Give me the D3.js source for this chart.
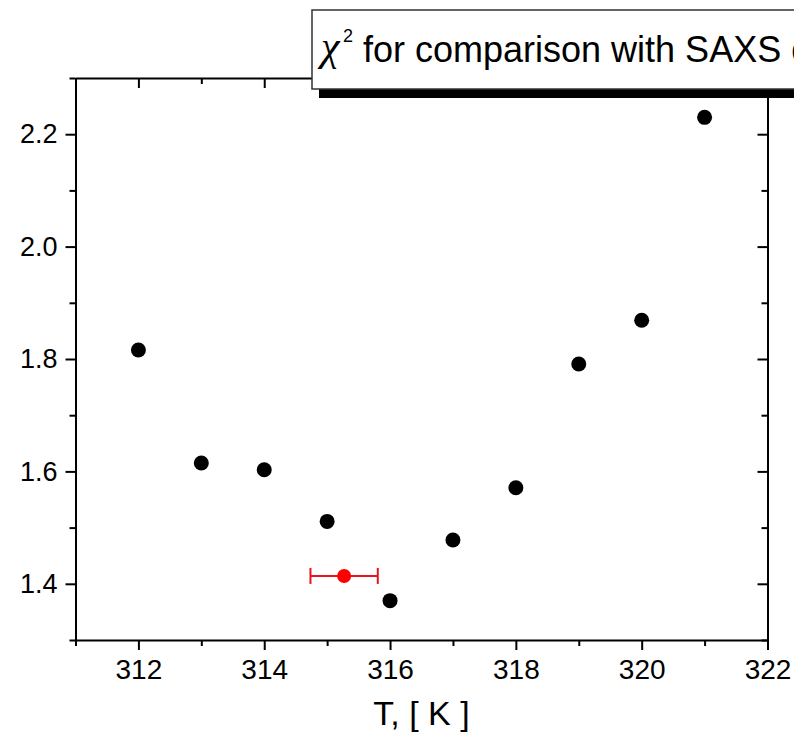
<!DOCTYPE html>
<html lang="en">
<head>
<meta charset="utf-8">
<title>chi2 vs T</title>
<style>
html,body {padding:0; margin:0; background:#fff;}
svg {display:block;}
text {font-family:"Liberation Sans", Arial, sans-serif; fill:#000;}
</style>
<script src="https://d3js.org/d3.v7.min.js"></script>
</head>
<body>
<script>
// temperatures (K) and chi^2 values
const temps = [312, 313, 314, 315, 316, 317, 318, 319, 320, 321]
const chi2 = [1.816, 1.615, 1.603, 1.511, 1.370, 1.478, 1.571, 1.791, 1.869, 2.230]

// the red point with its horizontal error bar
const bestT = [315.27]
const bestChi2 = [1.414]
const bestErr = [0.535]

// ticks
const xMajor = [312, 314, 316, 318, 320, 322]
const xMinor = [311, 313, 315, 317, 319, 321]
const yMajor = [1.4, 1.6, 1.8, 2.0, 2.2]
const yMinor = [1.3, 1.5, 1.7, 1.9, 2.1, 2.3]

const xTitle = 'T, [ K ]'
const legendText = 'for comparison with SAXS data'

const W = 794, H = 732
const mLeft = 75.5, mRight = 767.5, mTop = 78, mBottom = 640

let svg = d3.select('body').append('svg').attr('width', W).attr('height', H)

let x = d3.scaleLinear().domain([311, 322]).range([mLeft, mRight])
let y = d3.scaleLinear().domain([1.3, 2.3]).range([mBottom, mTop])

function styleAxis(g) {
  g.selectAll('path').attr('stroke', '#000').attr('stroke-width', 2)
  g.selectAll('line').attr('stroke', '#000').attr('stroke-width', 2)
  g.attr('font-family', null).attr('font-size', null)
}

// bottom: outward ticks with labels
svg.append('g').attr('transform', `translate(0,${mBottom})`)
  .call(d3.axisBottom(x).tickValues(xMinor).tickSize(6).tickFormat('').tickSizeOuter(0))
  .call(g => g.select('.domain').remove()).call(styleAxis)
svg.append('g').attr('transform', `translate(0,${mBottom})`)
  .call(d3.axisBottom(x).tickValues(xMajor).tickSize(10).tickPadding(9).tickSizeOuter(0).tickFormat(d3.format('d')))
  .call(styleAxis)
  .call(g => g.selectAll('text').style('font-size', '28px'))

// top: inward ticks, no labels
svg.append('g').attr('transform', `translate(0,${mTop})`)
  .call(d3.axisTop(x).tickValues(xMinor).tickSize(-6).tickFormat('').tickSizeOuter(0))
  .call(g => g.select('.domain').remove()).call(styleAxis)
svg.append('g').attr('transform', `translate(0,${mTop})`)
  .call(d3.axisTop(x).tickValues(xMajor).tickSize(-10).tickFormat('').tickSizeOuter(0))
  .call(styleAxis)

// left: outward ticks with labels
svg.append('g').attr('transform', `translate(${mLeft},0)`)
  .call(d3.axisLeft(y).tickValues(yMinor).tickSize(6).tickFormat('').tickSizeOuter(0))
  .call(g => g.select('.domain').remove()).call(styleAxis)
svg.append('g').attr('transform', `translate(${mLeft},0)`)
  .call(d3.axisLeft(y).tickValues(yMajor).tickSize(10).tickPadding(8).tickSizeOuter(0).tickFormat(d3.format('.1f')))
  .call(styleAxis)
  .call(g => g.selectAll('text').style('font-size', '27px'))

// right: inward ticks, no labels
svg.append('g').attr('transform', `translate(${mRight},0)`)
  .call(d3.axisRight(y).tickValues(yMinor).tickSize(-6).tickFormat('').tickSizeOuter(0))
  .call(g => g.select('.domain').remove()).call(styleAxis)
svg.append('g').attr('transform', `translate(${mRight},0)`)
  .call(d3.axisRight(y).tickValues(yMajor).tickSize(-10).tickFormat('').tickSizeOuter(0))
  .call(styleAxis)

// axis title
svg.append('text')
  .attr('x', (mLeft + mRight) / 2).attr('y', 725)
  .attr('text-anchor', 'middle')
  .style('font-size', '34px')
  .text(xTitle)

// black points
svg.append('g').selectAll('circle')
  .data(temps.map((t, i) => [t, chi2[i]]))
  .join('circle')
  .attr('cx', d => x(d[0]))
  .attr('cy', d => y(d[1]))
  .attr('r', 7.5)
  .attr('fill', '#000')

// red point + error bar
let best = bestT.map((t, i) => ({t: t, v: bestChi2[i], e: bestErr[i]}))
let eb = svg.append('g').selectAll('g').data(best).join('g')
  .attr('stroke', '#e8141c').attr('stroke-width', 2)
eb.append('line')
  .attr('x1', d => x(d.t - d.e)).attr('x2', d => x(d.t + d.e))
  .attr('y1', d => y(d.v)).attr('y2', d => y(d.v))
eb.append('line')
  .attr('x1', d => x(d.t - d.e)).attr('x2', d => x(d.t - d.e))
  .attr('y1', d => y(d.v) - 8).attr('y2', d => y(d.v) + 8)
eb.append('line')
  .attr('x1', d => x(d.t + d.e)).attr('x2', d => x(d.t + d.e))
  .attr('y1', d => y(d.v) - 8).attr('y2', d => y(d.v) + 8)
eb.append('circle')
  .attr('cx', d => x(d.t)).attr('cy', d => y(d.v))
  .attr('r', 7).attr('fill', '#ff0000').attr('stroke', 'none')

// legend box with shadow (runs off the right edge, as in the original)
let lg = svg.append('g')
lg.append('rect').attr('x', 319).attr('y', 19).attr('width', 600).attr('height', 79).attr('fill', '#000')
lg.append('rect').attr('x', 312).attr('y', 10).attr('width', 600).attr('height', 79)
  .attr('fill', '#fff').attr('stroke', '#333').attr('stroke-width', 1.5)
lg.append('text').attr('x', 321).attr('y', 60)
  .style('font-family', '"Liberation Serif", "DejaVu Serif", serif')
  .style('font-style', 'italic').style('font-size', '42px')
  .text('χ')
lg.append('text').attr('x', 343).attr('y', 42).style('font-size', '18px').text('2')
lg.append('text').attr('x', 363).attr('y', 62).style('font-size', '36px').text(legendText)
</script>
</body>
</html>
